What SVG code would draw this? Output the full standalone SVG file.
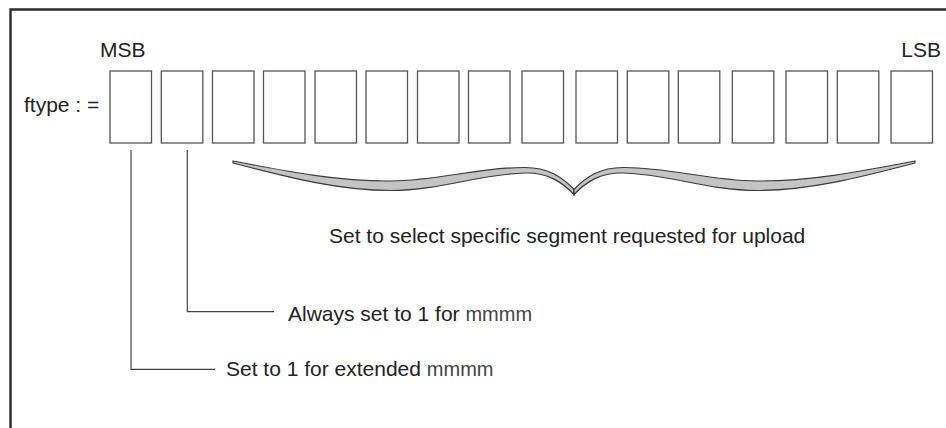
<svg xmlns="http://www.w3.org/2000/svg" width="946" height="428" viewBox="0 0 946 428">
  <style>
    .frame { fill: none; stroke: #2b2b2b; stroke-width: 2.4; }
    .bit { fill: #ffffff; stroke: #555555; stroke-width: 1.3; }
    .lead { fill: none; stroke: #444444; stroke-width: 1.2; }
    .brace { fill: #c4c4c4; stroke: #3a3a3a; stroke-width: 1.2; stroke-linejoin: miter; }
    .lbl { font-family: "Liberation Sans", Arial, Helvetica, sans-serif; font-size: 21px; fill: #222222; }
    .small { font-size: 20px; fill: #444444; }
  </style>
  <defs>
    <!-- left half of the curly brace; the right half is its mirror image -->
    <path id="half-brace" d="M233,163 C290,178 340,190.5 391,190.5 C440,190.5 480,174 525,173 C548,172.5 562,182 574,194.5 L574,189.5 C562,177 548,167.5 525,167.5 C480,167 440,180.5 391,181 C340,181.5 290,172 233,161 Z"/>
  </defs>

  <rect width="946" height="428" fill="#ffffff"/>

  <!-- page frame: top and left rules -->
  <path class="frame" d="M10.5,430 L10.5,9.5 L948,9.5"/>

  <g id="header">
    <text class="lbl" x="100" y="57">MSB</text>
    <text class="lbl" x="941" y="57" text-anchor="end">LSB</text>
    <text class="lbl" x="24" y="112">ftype : =</text>
  </g>

  <!-- 16-bit field, MSB on the left -->
  <g id="bits">
    <rect class="bit" x="110" y="71" width="41.5" height="72"/>
    <rect class="bit" x="161.3" y="71" width="41.5" height="72"/>
    <rect class="bit" x="212.5" y="71" width="41.5" height="72"/>
    <rect class="bit" x="263.5" y="71" width="41.5" height="72"/>
    <rect class="bit" x="315" y="71" width="41.5" height="72"/>
    <rect class="bit" x="366" y="71" width="41.5" height="72"/>
    <rect class="bit" x="417.5" y="71" width="41.5" height="72"/>
    <rect class="bit" x="468.5" y="71" width="41.5" height="72"/>
    <rect class="bit" x="522" y="71" width="41.5" height="72"/>
    <rect class="bit" x="576" y="71" width="41.5" height="72"/>
    <rect class="bit" x="627.3" y="71" width="41.5" height="72"/>
    <rect class="bit" x="678.3" y="71" width="41.5" height="72"/>
    <rect class="bit" x="732.3" y="71" width="41.5" height="72"/>
    <rect class="bit" x="786" y="71" width="41.5" height="72"/>
    <rect class="bit" x="837.3" y="71" width="41.5" height="72"/>
    <rect class="bit" x="891" y="71" width="41.5" height="72"/>
  </g>

  <!-- brace spanning the lower 14 bits -->
  <g id="segment-brace">
    <use href="#half-brace" class="brace"/>
    <use href="#half-brace" class="brace" transform="translate(1148,0) scale(-1,1)"/>
    <text class="lbl" x="329" y="243">Set to select specific segment requested for upload</text>
  </g>

  <g id="connectors">
    <path class="lead" d="M131,150 L131,369.3 L215,369.3"/>
    <path class="lead" d="M187.3,150 L187.3,311.7 L274,311.7"/>
  </g>

  <g id="bit14-note">
    <text class="lbl" x="288" y="321">Always set to 1 for <tspan class="small">mmmm</tspan></text>
  </g>
  <g id="bit15-note">
    <text class="lbl" x="226" y="376">Set to 1 for extended <tspan class="small">mmmm</tspan></text>
  </g>
</svg>
